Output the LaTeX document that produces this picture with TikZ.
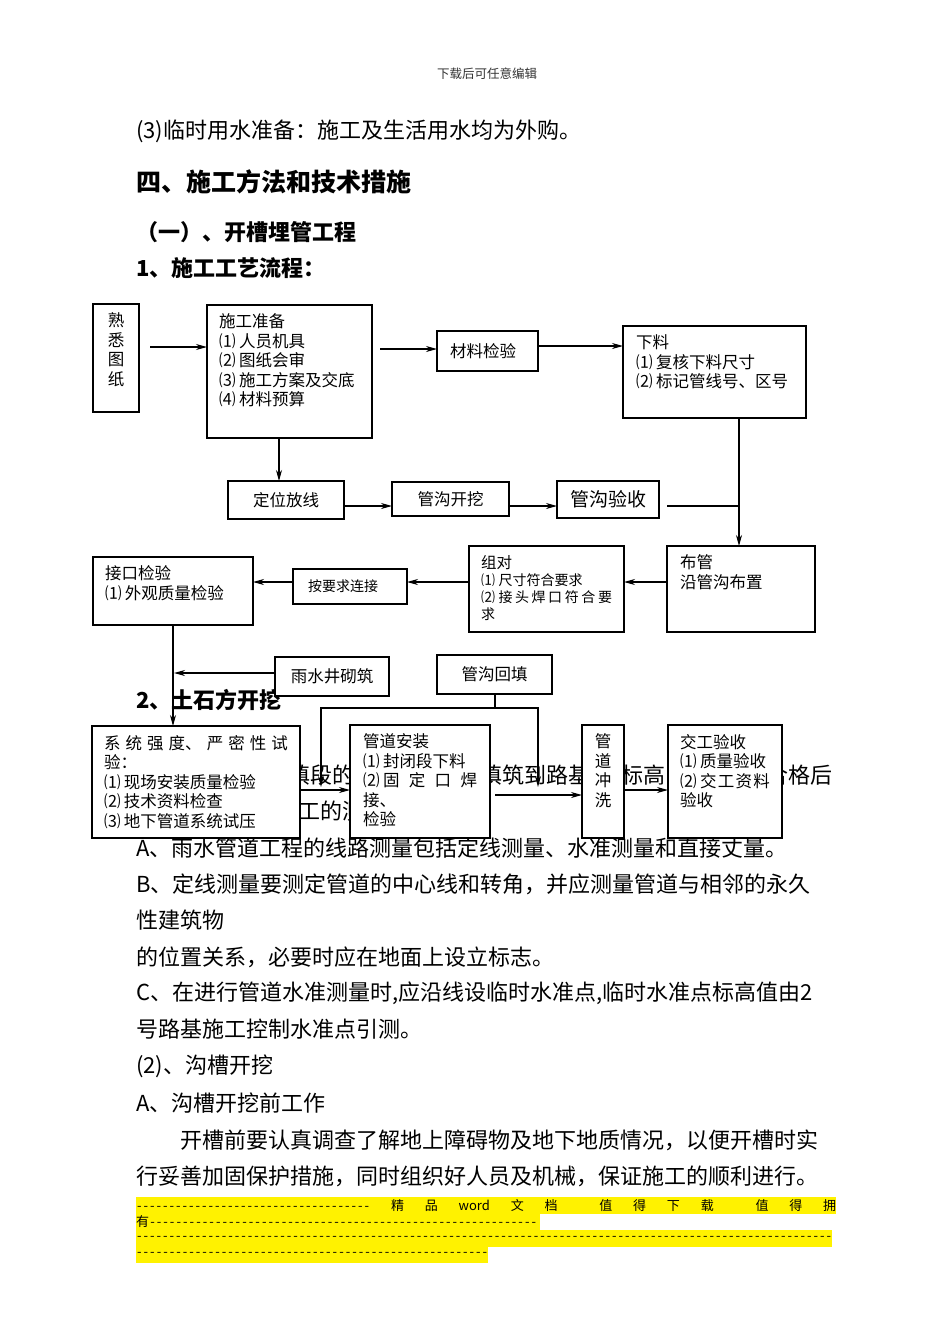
\documentclass[tikz,border=0pt]{standalone}
\usepackage{fontspec}
\setmainfont{Noto Sans CJK SC}
\usetikzlibrary{arrows.meta}
\XeTeXlinebreaklocale "zh"
\XeTeXlinebreakskip=0pt plus 1pt

\newcommand{\bodyfont}{\fontsize{22}{26}\selectfont}
\newcommand{\headfont}{\fontsize{22}{26}\selectfont\bfseries}
\newcommand{\bigheadfont}{\fontsize{25}{30}\selectfont\bfseries}
\newcommand{\boxfont}{\fontsize{16.5}{19.5}\selectfont}
\newcommand{\smallboxfont}{\fontsize{14}{17}\selectfont}
\newcommand{\notefont}{\fontsize{12.5}{15}\selectfont}
\newcommand{\footfont}{\fontsize{13}{16}\selectfont}
\newcommand{\boxbody}[3]{\parbox[c][#2pt][t]{#1pt}{#3}}
\newcommand{\nr}[1]{#1\kern3.5pt}
\newcommand{\dashrun}[1]{\hbox to #1pt{\xleaders\hbox to 6.5pt{\hss-\hss}\hfill}}

\begin{document}
\begin{tikzpicture}[x=1pt, y=-1pt,
  pagenote/.style={inner sep=0pt, font=\notefont, text=black!80},
  bodyline/.style={anchor=west, inner sep=0pt, font=\bodyfont},
  justline/.style={bodyline, text width=#1, align=justify},
  headline/.style={anchor=west, inner sep=0pt, font=\headfont},
  flowbox/.style={draw, line width=1.2pt, fill=white, anchor=north west, inner xsep=12pt, inner ysep=9pt, outer sep=0pt, font=\boxfont},
  midbox/.style={draw, line width=1.2pt, fill=white, anchor=north west, inner sep=0pt, outer sep=0pt, font=\boxfont},
  flow/.style={line width=1.1pt, -{Stealth[length=11pt, width=6pt, inset=3.5pt]}},
  link/.style={line width=1.1pt},
  footrow/.style={anchor=west, inner sep=0pt, font=\footfont},
]
\fill[white] (0,0) rectangle (950,1344); %page

% page text
\node[pagenote] at (487,74) (note) {下载后可任意编辑};
\node[bodyline] at (136,131) (water) {(3)临时用水准备：施工及生活用水均为外购。};
\node[headline, font=\bigheadfont] at (136,182) (sec4) {四、施工方法和技术措施};
\node[headline] at (136,232) (sub1) {（一）、开槽埋管工程};
\node[headline] at (136,268) (step1) {1、施工工艺流程：};
\node[headline] at (136,700) (step2) {2、土石方开挖};
\node[bodyline] at (288,775) (frag1) {填段的};
\node[bodyline] at (480,775) (frag2) {填筑到路基};
\node[bodyline] at (621,775) (frag3) {标高};
\node[bodyline] at (766,775) (frag4) {合格后};
\node[bodyline] at (298,811) (frag5) {工的测};
\node[bodyline] at (136,848) (paraA) {A、雨水管道工程的线路测量包括定线测量、水准测量和直接丈量。};
\node[justline=700pt] at (136,884) (paraB) {\parfillskip=0pt B、定线测量要测定管道的中心线和转角，并应测量管道与相邻的永久};
\node[bodyline] at (136,920) (paraB2) {性建筑物};
\node[bodyline] at (136,957) (paraB3) {的位置关系，必要时应在地面上设立标志。};
\node[justline=700pt] at (136,993) (paraC) {\parfillskip=0pt C、在进行管道水准测量时,应沿线设临时水准点,临时水准点标高值由2};
\node[bodyline] at (136,1029) (paraC2) {号路基施工控制水准点引测。};
\node[bodyline] at (136,1066) (dig2) {(2)、沟槽开挖};
\node[bodyline] at (136,1103) (digA) {A、沟槽开挖前工作};
\node[justline=656pt] at (180,1140) (paraD) {\parfillskip=0pt 开槽前要认真调查了解地上障碍物及地下地质情况，以便开槽时实};
\node[bodyline] at (136,1176) (paraD2) {行妥善加固保护措施，同时组织好人员及机械，保证施工的顺利进行。};

% footer
\fill[yellow] (136,1197) rectangle (836,1214);
\fill[yellow] (136,1214) rectangle (540,1230);
\fill[yellow] (136,1230) rectangle (832,1247);
\fill[yellow] (136,1247) rectangle (488,1263);
\node[footrow] at (136,1206) (foot1) {\hbox to 700pt{\dashrun{234}\hfill 精\hfill 品\hfill word\hfill 文\hfill 档\hfill\hfill 值\hfill 得\hfill 下\hfill 载\hfill\hfill 值\hfill 得\hfill 拥}};
\node[footrow] at (136,1222) (foot2) {\hbox{有\dashrun{388}}};
\node[footrow] at (136,1238) (foot3) {\dashrun{696}};
\node[footrow] at (136,1254) (foot4) {\dashrun{352}};

% flow boxes
\node[flowbox, inner xsep=5pt] at (93,304) (read) {\boxbody{36}{90}{\centering 熟\\悉\\图\\纸}}; %drawings
\node[flowbox] at (207,305) (prep) {\boxbody{141}{115}{施工准备\\\nr{⑴}人员机具\\\nr{⑵}图纸会审\\\nr{⑶}施工方案及交底\\\nr{⑷}材料预算}}; %preparation
\node[midbox, minimum width=101pt, minimum height=40pt, text width=75pt] at (437,331) (check) {材料检验}; %material check
\node[flowbox, inner xsep=13pt] at (623,326) (cut) {\boxbody{157}{74}{下料\\\nr{⑴}复核下料尺寸\\\nr{⑵}标记管线号、区号}}; %cutting
\node[midbox, minimum width=116pt, minimum height=38pt] at (228,481) (locate) {定位放线}; %setting out
\node[midbox, minimum width=117pt, minimum height=34pt] at (392,482) (dig) {管沟开挖}; %trench dig
\node[midbox, minimum width=102pt, minimum height=37pt, font=\fontsize{19}{22}\selectfont] at (557,481) (trench) {管沟验收}; %trench check
\node[flowbox, inner xsep=13pt] at (667,546) (lay) {\boxbody{122}{68}{布管\\沿管沟布置}}; %laying
\node[flowbox] at (469,546) (pair) {\boxbody{131}{68}{{\fontsize{15.5}{17}\selectfont 组对}\\\smallboxfont \nr{⑴}尺寸符合要求\\\nr{⑵}接头焊口符合要\linebreak 求}}; %pairing
\node[midbox, minimum width=114pt, minimum height=35pt, text width=84pt, font=\smallboxfont] at (293,569) (join) {按要求连接}; %joining
\node[flowbox] at (93,557) (port) {\boxbody{136}{50}{接口检验\\\nr{⑴}外观质量检验}}; %joint check
\node[midbox, minimum width=114pt, minimum height=39pt] at (275,657) (well) {雨水井砌筑}; %rain well
\node[midbox, minimum width=115pt, minimum height=39pt] at (437,655) (backfill) {管沟回填}; %backfill
\node[flowbox] at (92,726) (test) {\boxbody{184}{94}{系统强度、严密性试\linebreak 验：\\\nr{⑴}现场安装质量检验\\\nr{⑵}技术资料检查\\\nr{⑶}地下管道系统试压}}; %pressure test
\node[flowbox, inner xsep=13pt] at (350,725) (install) {\boxbody{114}{95}{管道安装\\\nr{⑴}封闭段下料\\\nr{⑵}固定口焊\linebreak 接、\\检验}}; %installation
\node[flowbox, inner xsep=4pt] at (582,725) (flush) {\boxbody{34}{95}{\centering 管\\道\\冲\\洗}}; %flushing
\node[flowbox] at (668,725) (accept) {\boxbody{90}{95}{交工验收\\\nr{⑴}质量验收\\\nr{⑵}交工资料\linebreak 验收}}; %handover

% connectors
\coordinate (merge) at (739,506);
\coordinate (wellin) at (174,673);
\coordinate (fork) at (495,708);
\coordinate (forkL) at (321,708);
\coordinate (forkR) at (538,708);
\coordinate (dropL) at (321,787);
\coordinate (dropR) at (538,787);
\draw[flow, shorten <=11pt] (read.east |- 0,347) -- (prep.west |- 0,347);
\draw[flow, shorten <=8pt] (prep.east |- 0,349) -- (check.west |- 0,349);
\draw[flow] (check.east |- 0,346) -- (cut.west |- 0,346);
\draw[flow] (cut.south -| merge) -- (lay.north -| merge);
\draw[link, shorten <=8pt] (trench.east |- merge) -- (merge);
\draw[flow] (prep.south -| 279,0) -- (locate.north -| 279,0);
\draw[flow] (locate.east |- 0,506) -- (dig.west |- 0,506);
\draw[flow] (dig.east |- 0,506) -- (trench.west |- 0,506);
\draw[flow] (lay.west |- 0,582) -- (pair.east |- 0,582);
\draw[flow] (pair.west |- 0,582) -- (join.east |- 0,582);
\draw[flow] (join.west |- 0,582) -- (port.east |- 0,582);
\draw[flow] (port.south -| 173,0) -- (test.north -| 173,0);
\draw[flow] (well.west |- wellin) -- (wellin);
\draw[flow] (backfill.south -| fork) -- (fork) -- (forkL) -- (dropL);
\draw[flow] (fork) -- (forkR) -- (dropR);
\draw[flow] (test.east |- 0,790) -- (install.west |- 0,790);
\draw[flow, shorten <=5pt] (install.east |- 0,795) -- (flush.west |- 0,795);
\draw[flow] (flush.east |- 0,790) -- (accept.west |- 0,790);
\end{tikzpicture}
\end{document}
